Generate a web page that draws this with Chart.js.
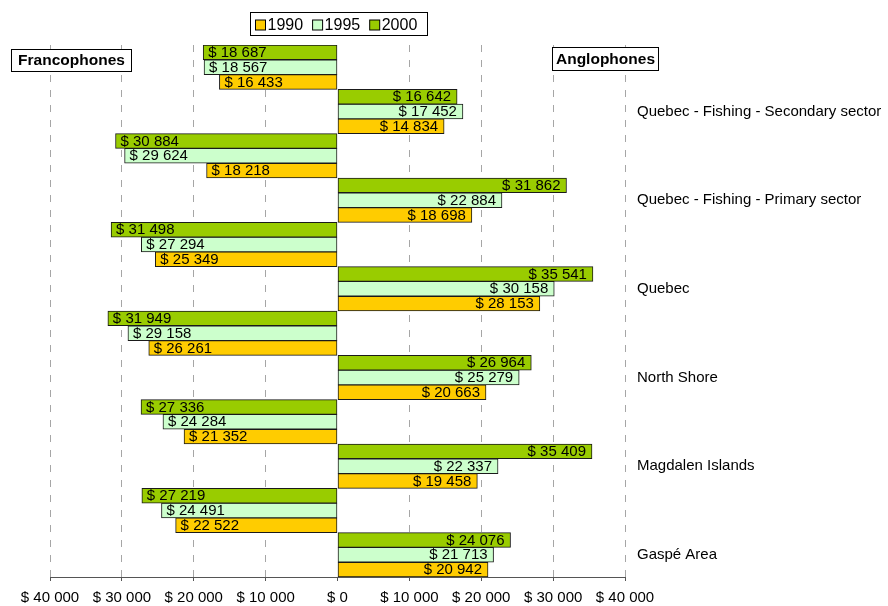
<!DOCTYPE html>
<html>
<head>
<meta charset="utf-8">
<script src="https://cdn.jsdelivr.net/npm/chart.js@4.4.1/dist/chart.umd.min.js"></script>
<style>
  html, body { margin: 0; padding: 0; background: #ffffff; }
  #wrap { width: 888px; height: 606px; }
</style>
</head>
<body>
<div id="wrap"><canvas id="chart" width="888" height="606"></canvas></div>
<script>
// Average income by region, Francophones (left) vs Anglophones (right)
const regions = [
  'Quebec - Fishing - Secondary sector',
  'Quebec - Fishing - Primary sector',
  'Quebec',
  'North Shore',
  'Magdalen Islands',
  'Gaspé Area'
];
const years = ['1990', '1995', '2000'];

const franco1990 = [16433, 18218, 25349, 26261, 21352, 22522];
const franco1995 = [18567, 29624, 27294, 29158, 24284, 24491];
const franco2000 = [18687, 30884, 31498, 31949, 27336, 27219];

const anglo1990 = [14834, 18698, 28153, 20663, 19458, 20942];
const anglo1995 = [17452, 22884, 30158, 25279, 22337, 21713];
const anglo2000 = [16642, 31862, 35541, 26964, 35409, 24076];

const xMin = -40000, xMax = 40000, xStep = 10000;

const yearColors = { '1990': '#FFCC00', '1995': '#CCFFCC', '2000': '#99CC00' };
const FONT = 'Liberation Sans, Arial, Helvetica, sans-serif';

// Each region gets two rows: Francophones (negative side) then Anglophones.
const rowLabels = regions.flatMap(r => ['', r]);
const rows = (fr, an) => regions.flatMap((_, i) => [-fr[i], an[i]]);

const money = v => '$ ' + String(Math.abs(Math.round(v))).replace(/\B(?=(\d{3})+(?!\d))/g, ' ');

const series = {
  '1990': rows(franco1990, anglo1990),
  '1995': rows(franco1995, anglo1995),
  '2000': rows(franco2000, anglo2000)
};

// 2000 is listed first so it sits on top inside each row
const datasets = ['2000', '1995', '1990'].map(y => ({
  label: y,
  data: series[y],
  backgroundColor: yearColors[y],
  borderColor: '#1a1a1a',
  borderWidth: 1,
  borderSkipped: false,
  barPercentage: 1,
  categoryPercentage: 1
}));

const valueLabels = {
  id: 'valueLabels',
  afterDatasetsDraw(chart) {
    const ctx = chart.ctx;
    ctx.save();
    ctx.font = '15px ' + FONT;
    ctx.fillStyle = '#000';
    ctx.textBaseline = 'middle';
    chart.data.datasets.forEach((ds, di) => {
      const meta = chart.getDatasetMeta(di);
      meta.data.forEach((bar, i) => {
        const v = ds.data[i];
        if (v < 0) {
          ctx.textAlign = 'left';
          ctx.fillText(money(v), bar.x + 5, bar.y + 0.5);
        } else {
          ctx.textAlign = 'right';
          ctx.fillText(money(v), bar.x - 6, bar.y + 0.5);
        }
      });
    });
    ctx.restore();
  }
};

const boxText = (ctx, text, x, y, w, h, font) => {
  ctx.fillStyle = '#fff';
  ctx.fillRect(x, y, w, h);
  ctx.strokeStyle = '#000';
  ctx.lineWidth = 1;
  ctx.strokeRect(x, y, w, h);
  ctx.fillStyle = '#000';
  ctx.font = font;
  ctx.textAlign = 'center';
  ctx.textBaseline = 'middle';
  ctx.fillText(text, x + w / 2, y + h / 2 + 0.5);
};

const annotations = {
  id: 'annotations',
  afterDraw(chart) {
    const ctx = chart.ctx;
    ctx.save();
    // side headings
    boxText(ctx, 'Francophones', 11.5, 49.5, 120, 22, 'bold 15.5px ' + FONT);
    boxText(ctx, 'Anglophones', 552.5, 47.5, 106, 23, 'bold 15.5px ' + FONT);

    // legend
    ctx.fillStyle = '#fff';
    ctx.fillRect(250.5, 12.5, 177, 23);
    ctx.strokeStyle = '#000';
    ctx.strokeRect(250.5, 12.5, 177, 23);
    ctx.font = '16px ' + FONT;
    ctx.textAlign = 'left';
    ctx.textBaseline = 'middle';
    let x = 255.5;
    [...chart.data.datasets].reverse().forEach(ds => {
      ctx.fillStyle = ds.backgroundColor;
      ctx.fillRect(x, 20, 10, 10);
      ctx.strokeStyle = '#000';
      ctx.strokeRect(x, 20, 10, 10);
      ctx.fillStyle = '#000';
      ctx.fillText(ds.label, x + 12, 25.5);
      x += 12 + ctx.measureText(ds.label).width + 9.5;
    });
    ctx.restore();
  }
};

Chart.defaults.font.family = FONT;
Chart.defaults.color = '#000';

new Chart(document.getElementById('chart'), {
  type: 'bar',
  data: { labels: rowLabels, datasets },
  options: {
    indexAxis: 'y',
    responsive: false,
    animation: false,
    layout: { padding: { top: 45, left: 50, right: 0, bottom: 0 } },
    plugins: {
      legend: { display: false },
      tooltip: { enabled: false }
    },
    scales: {
      x: {
        type: 'linear',
        position: 'bottom',
        min: xMin,
        max: xMax,
        afterFit: s => { s.height = 29; },
        ticks: {
          stepSize: xStep,
          padding: 8,
          font: { size: 15 },
          color: '#000',
          callback: v => money(v)
        },
        grid: {
          color: c => (c.tick && c.tick.value === 0) ? 'rgba(0,0,0,0)' : '#a6a6a6',
          lineWidth: 1,
          drawTicks: true,
          tickLength: 4,
          tickColor: '#555'
        },
        border: { display: true, color: '#555', width: 1, dash: [7, 8] }
      },
      y: {
        type: 'category',
        position: 'right',
        afterFit: s => { s.width = 263; },
        ticks: {
          autoSkip: false,
          padding: 12,
          font: { size: 15 },
          color: '#000',
          crossAlign: 'near'
        },
        grid: { display: false, drawTicks: false },
        border: { display: false }
      }
    }
  },
  plugins: [valueLabels, annotations]
});
</script>
</body>
</html>
